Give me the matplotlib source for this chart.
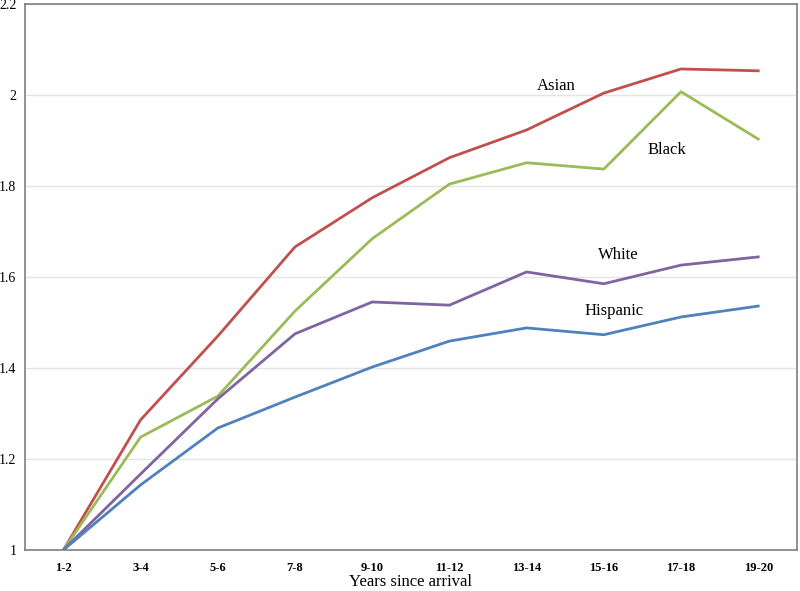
import matplotlib
matplotlib.use("Agg")
import matplotlib.pyplot as plt

# data ------------------------------------------------------------------------

periods = ["1-2", "3-4", "5-6", "7-8", "9-10", "11-12", "13-14", "15-16",
           "17-18", "19-20"]

asian = [1.0, 1.286, 1.47, 1.666, 1.774, 1.862, 1.923, 2.004, 2.057, 2.053]
black = [1.0, 1.248, 1.338, 1.525, 1.684, 1.804, 1.851, 1.837, 2.007, 1.903]
white = [1.0, 1.167, 1.332, 1.475, 1.545, 1.538, 1.611, 1.585, 1.626, 1.644]
hispanic = [1.0, 1.143, 1.268, 1.336, 1.402, 1.459, 1.488, 1.473, 1.512,
            1.536]

y_ticks = [1, 1.2, 1.4, 1.6, 1.8, 2, 2.2]
y_tick_labels = ["1", "1.2", "1.4", "1.6", "1.8", "2", "2.2"]

# -----------------------------------------------------------------------------

plt.rcParams["font.family"] = ["Liberation Serif", "DejaVu Serif"]

fig = plt.figure(figsize=(8, 5.91), dpi=100)
ax = fig.add_axes([0.031, 0.0694, 0.965, 0.924])

x = list(range(len(periods)))

ax.plot(x, asian, color="#C0504D", lw=2)
ax.plot(x, black, color="#9BBB59", lw=2)
ax.plot(x, white, color="#8064A2", lw=2)
ax.plot(x, hispanic, color="#4F81BD", lw=2)

# in-plot labels
ax.text(6.38, 2.02, "Asian", fontsize=12, ha="center", va="center")
ax.text(7.82, 1.879, "Black", fontsize=12, ha="center", va="center")
ax.text(7.19, 1.648, "White", fontsize=12, ha="center", va="center")
ax.text(7.13, 1.525, "Hispanic", fontsize=12, ha="center", va="center")

ax.set_xlim(-0.5, len(periods) - 0.5)
ax.set_ylim(1, 2.2)

ax.set_xticks(x)
ax.set_xticklabels(periods, fontsize=9, fontweight="bold")
ax.set_yticks(y_ticks)
ax.set_yticklabels(y_tick_labels, fontsize=10)
ax.tick_params(length=0, pad=6)
ax.tick_params(axis="x", pad=9)

ax.grid(axis="y", color="#E4E4E4", lw=1)
ax.set_axisbelow(True)

for s in ax.spines.values():
    s.set_color("#7F7F7F")
    s.set_linewidth(1.2)

ax.set_xlabel("Years since arrival", fontsize=12, labelpad=0)

fig.savefig("out.png", dpi=100)
